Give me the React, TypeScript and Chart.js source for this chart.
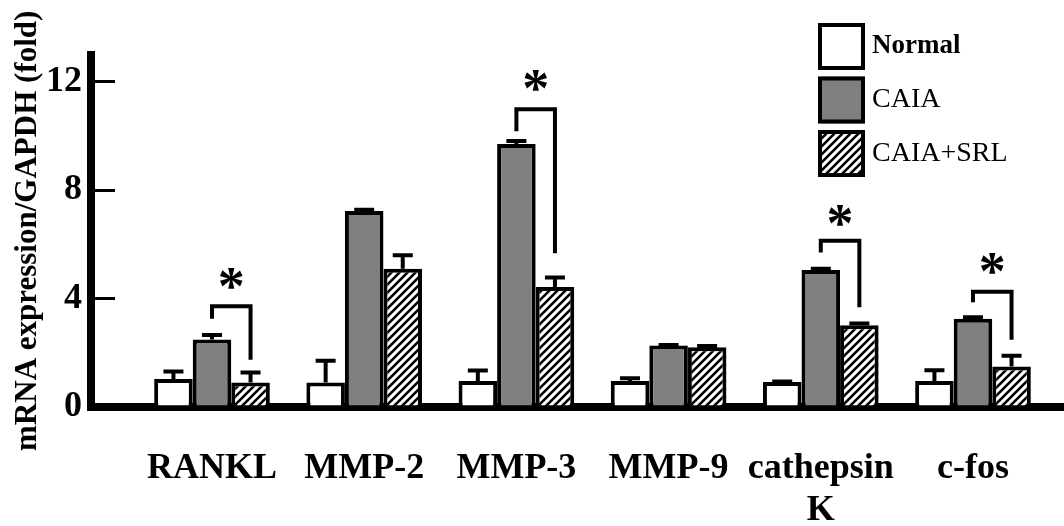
import { useEffect, useRef } from 'react';
import { Chart, registerables } from 'chart.js';

Chart.register(...registerables);

// ---- data ----
const categories = ['RANKL', 'MMP-2', 'MMP-3', 'MMP-9', 'cathepsin K', 'c-fos'];
const categoryLines = [['RANKL'], ['MMP-2'], ['MMP-3'], ['MMP-9'], ['cathepsin', 'K'], ['c-fos']];
const seriesNames = ['Normal', 'CAIA', 'CAIA+SRL'];
const normalValues = [1.03, 0.9, 0.96, 0.96, 0.92, 0.96];
const normalErrors = [0.28, 0.81, 0.39, 0.1, 0.02, 0.4];
const caiaValues = [2.49, 7.23, 9.7, 2.27, 5.05, 3.26];
const caiaErrors = [0.17, 0.05, 0.11, 0.02, 0.05, 0.05];
const srlValues = [0.9, 5.1, 4.43, 2.2, 3.02, 1.49];
const srlErrors = [0.37, 0.5, 0.35, 0.05, 0.06, 0.4];
const yTicks = [0, 4, 8, 12];
const yTitle = 'mRNA expression/GAPDH (fold)';
// significance brackets (CAIA vs CAIA+SRL)
const sigCategories = [0, 2, 4, 5];
const bracketTops = [3.72, 10.98, 6.13, 4.25];
const bracketLeftEnds = [3.26, 10.17, 5.7, 3.86];
const bracketRightEnds = [1.74, 5.67, 3.68, 2.48];
const asteriskLevels = [4.75, 12.04, 7.08, 5.28];

const FONT = '"Liberation Serif", "Times New Roman", serif';

const errorBarsPlugin = {
  id: 'errorBars',
  afterDatasetsDraw(chart: any) {
    const ctx = chart.ctx;
    const y = chart.scales.y;
    ctx.save();
    ctx.strokeStyle = '#000';
    ctx.lineWidth = 4;
    ctx.lineCap = 'butt';
    chart.data.datasets.forEach((ds: any, d: number) => {
      const meta = chart.getDatasetMeta(d);
      meta.data.forEach((bar: any, i: number) => {
        const v = ds.data[i].y;
        const top = y.getPixelForValue(v);
        const end = y.getPixelForValue(v + ds.errors[i]);
        ctx.beginPath();
        ctx.moveTo(bar.x, top);
        ctx.lineTo(bar.x, end);
        ctx.moveTo(bar.x - 10, end);
        ctx.lineTo(bar.x + 10, end);
        ctx.stroke();
      });
    });
    ctx.restore();
  },
};

const bracketPlugin = {
  id: 'brackets',
  afterDatasetsDraw(chart: any) {
    const ctx = chart.ctx;
    const y = chart.scales.y;
    const mL = chart.getDatasetMeta(1);
    const mR = chart.getDatasetMeta(2);
    ctx.save();
    ctx.strokeStyle = '#000';
    ctx.fillStyle = '#000';
    ctx.lineWidth = 4;
    ctx.lineJoin = 'miter';
    ctx.font = `bold 54px ${FONT}`;
    sigCategories.forEach((c, k) => {
      const xL = mL.data[c].x;
      const xR = mR.data[c].x;
      ctx.beginPath();
      ctx.moveTo(xL, y.getPixelForValue(bracketLeftEnds[k]));
      ctx.lineTo(xL, y.getPixelForValue(bracketTops[k]));
      ctx.lineTo(xR, y.getPixelForValue(bracketTops[k]));
      ctx.lineTo(xR, y.getPixelForValue(bracketRightEnds[k]));
      ctx.stroke();
      const m = ctx.measureText('*');
      const cx = (xL + xR) / 2;
      const cy = y.getPixelForValue(asteriskLevels[k]);
      const gx = cx - (m.actualBoundingBoxRight - m.actualBoundingBoxLeft) / 2;
      const gy = cy + (m.actualBoundingBoxAscent - m.actualBoundingBoxDescent) / 2;
      ctx.textBaseline = 'alphabetic';
      ctx.textAlign = 'left';
      ctx.fillText('*', gx, gy);
    });
    ctx.restore();
  },
};

const legendPlugin = {
  id: 'boxLegend',
  afterDraw(chart: any) {
    const ctx = chart.ctx;
    ctx.save();
    chart.data.datasets.forEach((ds: any, k: number) => {
      const bx = 818;
      const by = 23 + k * 53.5;
      const s = 47;
      ctx.fillStyle = ds.backgroundColor;
      ctx.fillRect(bx, by, s, s);
      ctx.strokeStyle = '#000';
      ctx.lineWidth = 4;
      ctx.strokeRect(bx + 2, by + 2, s - 4, s - 4);
      ctx.fillStyle = '#000';
      ctx.font = k === 0 ? `bold 27px ${FONT}` : `28px ${FONT}`;
      ctx.textAlign = 'left';
      ctx.textBaseline = 'middle';
      ctx.fillText(ds.label, 872, by + s / 2);
    });
    ctx.restore();
  },
};

export default function App() {
  const ref = useRef<HTMLCanvasElement | null>(null);
  useEffect(() => {
    const canvas = ref.current!;
    const ctx = canvas.getContext('2d')!;
    const tile = document.createElement('canvas');
    tile.width = 8;
    tile.height = 8;
    const t = tile.getContext('2d')!;
    t.fillStyle = '#fff';
    t.fillRect(0, 0, 8, 8);
    t.strokeStyle = '#000';
    t.lineWidth = 2.6;
    t.beginPath();
    t.moveTo(-2, 10);
    t.lineTo(10, -2);
    t.moveTo(-2, 2);
    t.lineTo(2, -2);
    t.moveTo(6, 10);
    t.lineTo(10, 6);
    t.stroke();
    const hatch = ctx.createPattern(tile, 'repeat');

    const mk = (vals: number[]) => vals.map((v, i) => ({ x: i, y: v }));
    const chart = new Chart(canvas, {
      type: 'bar',
      data: {
        datasets: [
          { label: seriesNames[0], data: mk(normalValues), errors: normalErrors, backgroundColor: '#ffffff', borderColor: '#000', borderWidth: 4 } as any,
          { label: seriesNames[1], data: mk(caiaValues), errors: caiaErrors, backgroundColor: '#808080', borderColor: '#000', borderWidth: 4 } as any,
          { label: seriesNames[2], data: mk(srlValues), errors: srlErrors, backgroundColor: hatch, borderColor: '#000', borderWidth: 4 } as any,
        ],
      },
      options: {
        responsive: false,
        animation: false,
        devicePixelRatio: 1,
        layout: { padding: { top: 40, left: 0, right: 0, bottom: 0 } },
        plugins: { legend: { display: false }, tooltip: { enabled: false } },
        datasets: { bar: { categoryPercentage: 0.76, barPercentage: 1 } },
        scales: {
          x: {
            type: 'linear',
            offset: false,
            min: -0.795,
            max: 5.598,
            z: 1,
            afterBuildTicks: (axis: any) => {
              axis.ticks = categories.map((_, i) => ({ value: i }));
            },
            afterFit: (axis: any) => {
              axis.height = 119;
            },
            grid: { display: false, drawTicks: false, offset: false },
            border: { display: true, color: '#000', width: 8 },
            ticks: {
              autoSkip: false,
              maxRotation: 0,
              minRotation: 0,
              padding: 40,
              color: '#000',
              font: { family: FONT, size: 36, weight: 'bold', lineHeight: 1.18 },
              callback: (v: any) => categoryLines[v] ?? '',
            },
          },
          y: {
            min: 0,
            max: 13,
            z: 1,
            afterBuildTicks: (axis: any) => {
              axis.ticks = yTicks.map((v) => ({ value: v }));
            },
            afterFit: (axis: any) => {
              axis.width = 91;
            },
            grid: { display: true, drawOnChartArea: false, drawTicks: true, tickLength: -24, lineWidth: 3, color: '#000' },
            border: { display: true, color: '#000', width: 8 },
            ticks: { padding: 33, color: '#000', font: { family: FONT, size: 36, weight: 'bold' } },
            title: {
              display: true,
              text: yTitle,
              color: '#000',
              font: { family: FONT, size: 31, weight: 'bold' },
              padding: { top: 9, bottom: 0 },
            },
          },
        },
      } as any,
      plugins: [errorBarsPlugin, bracketPlugin, legendPlugin],
    });
    return () => chart.destroy();
  }, []);
  return (
    <div style={{ position: 'absolute', left: 0, top: 0, width: 1064, height: 526, background: '#fff' }}>
      <canvas ref={ref} width={1064} height={526} style={{ display: 'block' }} />
    </div>
  );
}
